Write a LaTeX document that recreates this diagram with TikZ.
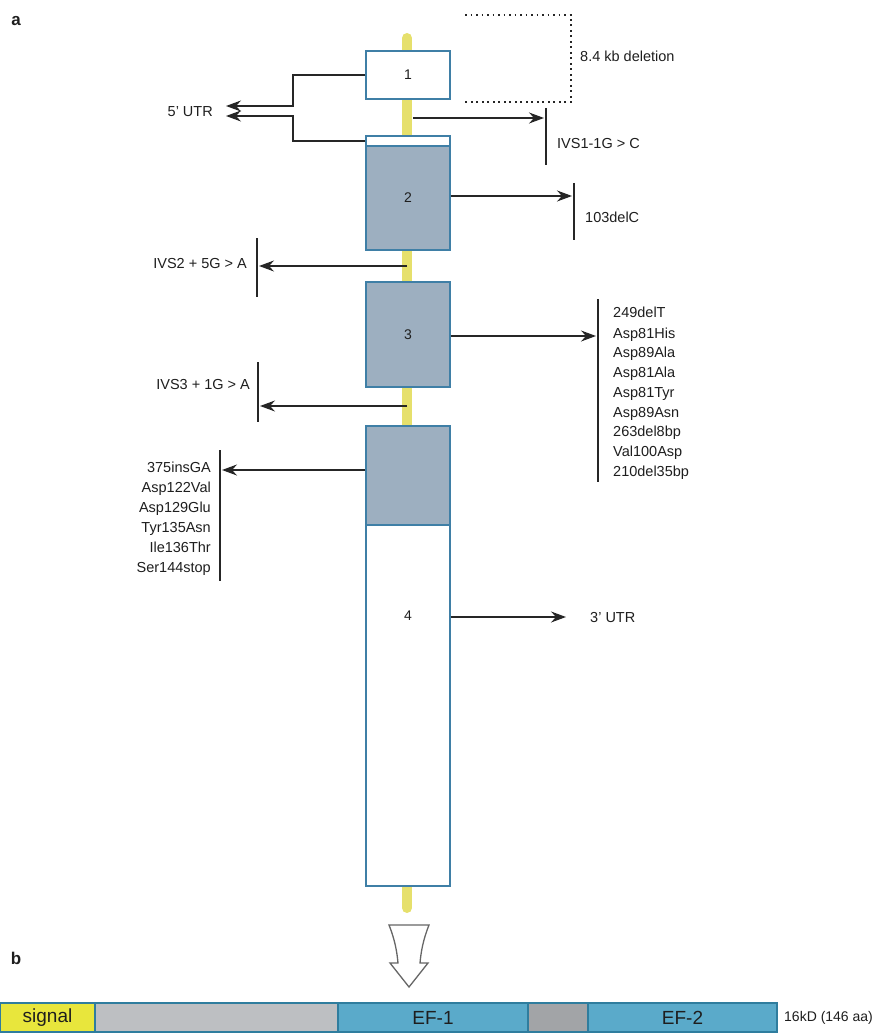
\documentclass[tikz,border=0pt]{standalone}
\usepackage{fontspec}
\setmainfont{Liberation Sans}
\usetikzlibrary{arrows.meta}
\definecolor{stemY}{HTML}{E6E06C}
\definecolor{exB}{HTML}{3F7FA6}
\definecolor{exG}{HTML}{9DAFC0}
\definecolor{lineC}{HTML}{262626}
\definecolor{txtC}{HTML}{1E1E1E}
\definecolor{barBlue}{HTML}{5AAACA}
\definecolor{barGrayA}{HTML}{BDBFC2}
\definecolor{barGrayB}{HTML}{A2A4A7}
\definecolor{sigY}{HTML}{E8E63C}
\definecolor{barEdge}{HTML}{2F7D9E}
\begin{document}
\begin{tikzpicture}[x=1pt,y=-1pt,
  exon/.style={draw=exB,line width=1.3pt,inner sep=0pt,minimum width=84pt,font=\fontsize{14}{14}\selectfont,text=txtC},
  lbl/.style={inner sep=0pt,text height=10.5pt,text depth=3pt,font=\fontsize{14.5}{15}\selectfont,text=txtC},
  arr/.style={draw=lineC,line width=1.3pt,-{Stealth[length=15pt,width=11pt,inset=5pt]}},
  vbar/.style={draw=lineC,line width=1.7pt},
  seg/.style={draw=barEdge,line width=1.3pt,minimum height=29pt,inner sep=0pt,font=\fontsize{19}{19}\selectfont,text=txtC}]
\useasboundingbox (0,0) rectangle (895,1035);
% panel labels
\node[font=\fontsize{17}{17}\selectfont\bfseries,text=txtC] (la) at (16,21) {a};
\node[font=\fontsize{17}{17}\selectfont\bfseries,text=txtC] (lb) at (16,958) {b};
% stem
\draw[stemY,line width=10pt,line cap=round] (407,38) -- (407,908);
% exons
\node[exon,fill=white,minimum height=48pt] (ex1) at (408,75) {1};
\node[exon,fill=white,minimum height=10pt] (ex2s) at (408,141) {};
\node[exon,fill=exG,minimum height=104pt] (ex2) at (408,198) {2};
\node[exon,fill=exG,minimum height=105pt] (ex3) at (408,334.5) {3};
\node[exon,fill=exG,minimum height=99pt] (ex4) at (408,475.5) {};
\node[exon,fill=white,minimum height=361pt] (ex4w) at (408,705.5) {};
\node[lbl,font=\fontsize{14}{14}\selectfont] (n4) at (408,617) {4};
% 8.4 kb deletion
\draw[lineC,line width=1.7pt,dash pattern=on 1.7pt off 3.8pt] (465,15) -- (571,15) -- (571,102) -- (465,102);
\node[lbl,anchor=west] (del) at (580,58) {8.4 kb deletion};
% 5' UTR
\node[lbl,anchor=east] (utr5) at (213,113) {5' UTR};
\coordinate (jx) at (293,0);
\coordinate (u1) at (226,106);
\coordinate (u2) at (226,116);
\draw[arr] (ex1.west) -- (ex1.west -| jx) |- (u1);
\draw[arr] (ex2s.west) -- (ex2s.west -| jx) |- (u2);
% IVS1-1G > C
\coordinate (s1) at (413,118);
\coordinate (a1) at (544,118);
\draw[arr] (s1) -- (a1);
\draw[vbar] (546,108) -- (546,165);
\node[lbl,anchor=west] (ivs1) at (557,145) {IVS1-1G > C};
% 103delC
\coordinate (a2) at (572,196);
\draw[arr] (ex2.east |- a2) -- (a2);
\draw[vbar] (574,183) -- (574,240);
\node[lbl,anchor=west] (d103) at (585,219) {103delC};
% IVS2 + 5G > A
\coordinate (s2) at (407,266);
\coordinate (a3) at (259,266);
\draw[arr] (s2) -- (a3);
\draw[vbar] (257,238) -- (257,297);
\node[lbl,anchor=east] (ivs2) at (247,265) {IVS2 + 5G > A};
% exon 3 mutations
\coordinate (a4) at (596,336);
\draw[arr] (ex3.east |- a4) -- (a4);
\draw[vbar] (598,299) -- (598,482);
\node[lbl,anchor=west] (m1) at (613,314) {249delT};
\node[lbl,anchor=west] (m2) at (613,335) {Asp81His};
\node[lbl,anchor=west] (m3) at (613,354) {Asp89Ala};
\node[lbl,anchor=west] (m4) at (613,374) {Asp81Ala};
\node[lbl,anchor=west] (m5) at (613,394) {Asp81Tyr};
\node[lbl,anchor=west] (m6) at (613,414) {Asp89Asn};
\node[lbl,anchor=west] (m7) at (613,433) {263del8bp};
\node[lbl,anchor=west] (m8) at (613,453) {Val100Asp};
\node[lbl,anchor=west] (m9) at (613,473) {210del35bp};
% IVS3 + 1G > A
\coordinate (s3) at (407,406);
\coordinate (a5) at (260,406);
\draw[arr] (s3) -- (a5);
\draw[vbar] (258,362) -- (258,422);
\node[lbl,anchor=east] (ivs3) at (250,386) {IVS3 + 1G > A};
% exon 4 mutations
\coordinate (a6) at (222,470);
\draw[arr] (ex4.west |- a6) -- (a6);
\draw[vbar] (220,450) -- (220,581);
\node[lbl,anchor=east] (k1) at (211,469) {375insGA};
\node[lbl,anchor=east] (k2) at (211,489) {Asp122Val};
\node[lbl,anchor=east] (k3) at (211,509) {Asp129Glu};
\node[lbl,anchor=east] (k4) at (211,529) {Tyr135Asn};
\node[lbl,anchor=east] (k5) at (211,549) {Ile136Thr};
\node[lbl,anchor=east] (k6) at (211,569) {Ser144stop};
% 3' UTR
\node[lbl,anchor=west] (utr3) at (590,619) {3' UTR};
\coordinate (a7) at (566,617);
\draw[arr] (ex4w.east |- a7) -- (a7);
% block arrow
\draw[draw=gray!80!black,line width=1.3pt,fill=white,line join=miter]
  (389,925) -- (429,925) .. controls (423,940) and (421,952) .. (420,963)
  -- (428,963) -- (409,987) -- (390,963) -- (398,963)
  .. controls (397,952) and (395,940) .. (389,925) -- cycle;
% protein bar
\node[seg,fill=sigY,minimum width=95pt] (sig) at (47.5,1017.5) {signal};
\node[seg,fill=barGrayA,minimum width=243pt] (g1) at (216.5,1017.5) {};
\node[seg,fill=barBlue,minimum width=190pt] (ef1) at (433,1017.5) {EF-1};
\node[seg,fill=barGrayB,minimum width=60pt] (g2) at (558,1017.5) {};
\node[seg,fill=barBlue,minimum width=189pt] (ef2) at (682.5,1017.5) {EF-2};
\node[lbl,anchor=west,font=\fontsize{14}{14}\selectfont] (kd) at (784,1018) {16kD (146 aa)};
\end{tikzpicture}
\end{document}
